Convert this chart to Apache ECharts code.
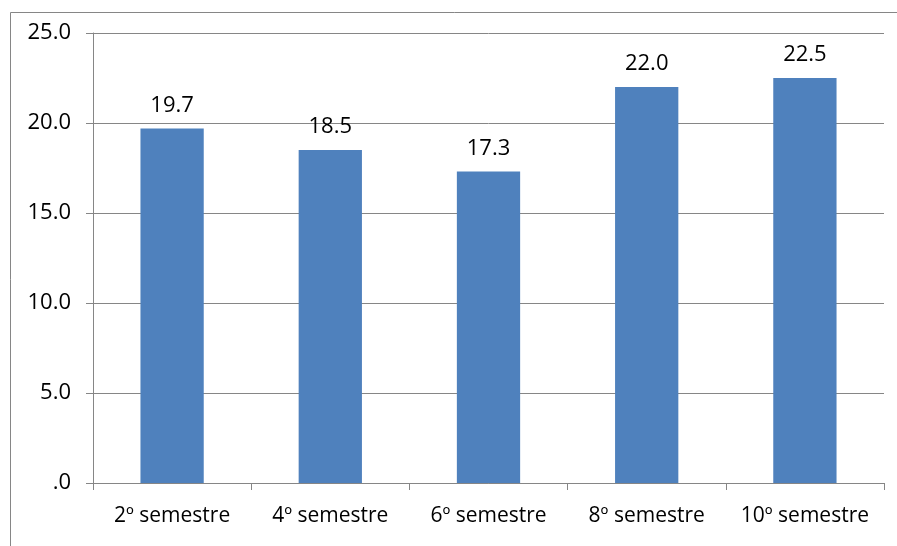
<!DOCTYPE html>
<html>
<head>
<meta charset="utf-8">
<script src="https://cdn.jsdelivr.net/npm/echarts@6/dist/echarts.min.js"></script>
<style>
  html, body { margin: 0; padding: 0; background: #fff; }
  #chart { width: 897px; height: 546px; }
</style>
</head>
<body>
<div id="chart"></div>
<script>
// Average score per semester
const categories = ['2º semestre', '4º semestre', '6º semestre', '8º semestre', '10º semestre'];
const values = [19.7, 18.5, 17.3, 22.0, 22.5];
const yTicks = { min: 0, max: 25, interval: 5 };

const FONT = 'Open Sans';
const GRAY = '#868686';

const chart = echarts.init(document.getElementById('chart'), null, { renderer: 'canvas' });

chart.setOption({
  animation: false,
  backgroundColor: '#ffffff',
  graphic: [{
    type: 'rect',
    shape: { x: 10.5, y: 12.5, width: 900, height: 600 },
    style: { fill: 'none', stroke: GRAY, lineWidth: 1 },
    silent: true
  }],
  grid: { left: 93, right: 13, top: 33, bottom: 63 },
  xAxis: {
    type: 'category',
    data: categories,
    boundaryGap: true,
    axisLine: { lineStyle: { color: GRAY, width: 1 } },
    axisTick: { show: true, length: 7, interval: 0, lineStyle: { color: GRAY } },
    axisLabel: { color: '#000', fontFamily: FONT, fontSize: 21, margin: 23, interval: 0 }
  },
  yAxis: {
    type: 'value',
    min: yTicks.min,
    max: yTicks.max,
    interval: yTicks.interval,
    axisLine: { show: true, lineStyle: { color: GRAY, width: 1 } },
    axisTick: { show: true, length: 7, lineStyle: { color: GRAY } },
    splitLine: { show: true, lineStyle: { color: GRAY, width: 1 } },
    axisLabel: {
      color: '#000', fontFamily: FONT, fontSize: 22, margin: 22,
      formatter: v => v === 0 ? '.0' : v.toFixed(1)
    }
  },
  series: [{
    type: 'bar',
    data: values,
    barWidth: '40%',
    itemStyle: { color: '#4F81BD' },
    label: {
      show: true,
      position: 'top',
      distance: 12,
      color: '#000',
      fontFamily: FONT,
      fontSize: 22,
      formatter: p => p.value.toFixed(1)
    }
  }]
});
</script>
</body>
</html>
